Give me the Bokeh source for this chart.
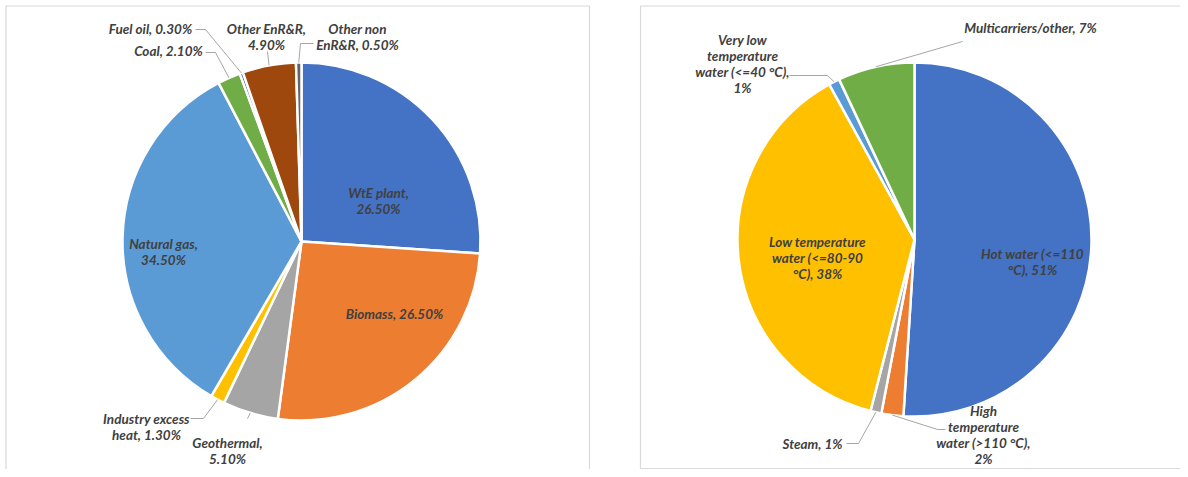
import math
from bokeh.plotting import figure
from bokeh.models import Range1d
from bokeh.core.properties import value
from bokeh.embed import file_html
from bokeh.resources import INLINE

# ---------------- data ----------------
supply_categories = ["WtE plant", "Biomass", "Geothermal", "Industry excess heat",
                     "Natural gas", "Coal", "Fuel oil", "Other EnR&R", "Other non EnR&R"]
supply_values = [26.5, 26.5, 5.1, 1.3, 34.5, 2.1, 0.3, 4.9, 0.5]

carrier_categories = ["Hot water (<=110 °C)", "High temperature water (>110 °C)", "Steam",
                      "Low temperature water (<=80-90 °C)", "Very low temperature water (<=40 °C)",
                      "Multicarriers/other"]
carrier_values = [51, 2, 1, 38, 1, 7]

# ---------------- styles / layout ----------------
supply_colors = ["#4472C4", "#ED7D31", "#A5A5A5", "#FFC000", "#5B9BD5",
                 "#70AD47", "#264478", "#9E480E", "#636363"]
carrier_colors = ["#4472C4", "#ED7D31", "#A5A5A5", "#FFC000", "#5B9BD5", "#70AD47"]

# label anchor (centre x, first line y) in pixels, words per line
supply_label_pos = [(378, 192), (394, 313), (227, 442), (146, 418), (163, 243),
                    (168, 50), (150, 28), (266, 28), (357, 28)]
supply_label_wrap = [[2, 1], [2], [1, 1], [2, 2], [2, 1], [2], [3], [2, 1], [2, 2]]
supply_leaders = [None, None, [(247, 418)], [(190, 418), (203, 418)], None,
                  [(205, 52), (215, 52)], [(195, 29), (205, 29)], [(267, 51)],
                  [(313, 43), (300, 43)]]

carrier_label_pos = [(1032, 253), (983, 410), (812, 443), (817, 241), (742, 39), (1030, 27)]
carrier_label_wrap = [[3, 2], [1, 1, 3, 1], [2], [2, 2, 2], [2, 1, 3, 1], [2]]
carrier_leaders = [None, [(945, 429), (937, 429)], [(846, 443), (858, 443)], None,
                   [(789, 75), (827, 75)], [(962, 41)]]

LINE_H = 16.3
TEXT_COLOR = "#404040"
LEADER_COLOR = "#A6A6A6"
FONT = "Lato"

W, H = 1180, 469

p = figure(width=W, height=H, x_range=Range1d(0, W), y_range=Range1d(-H, 0),
           output_backend="svg", toolbar_location=None, min_border=0)
p.axis.visible = False
p.grid.visible = False
p.outline_line_color = None
p.background_fill_color = "white"
p.border_fill_color = "white"

# panel frames
p.multi_line(xs=[[5.5, 5.5, 589, 589], [1200, 640, 640, 1200]],
             ys=[[-480, -5.5, -5.5, -480], [-468, -468, -5.5, -5.5]],
             line_color="#D9D9D9", line_width=1.2)


def draw_pie(cx, cy, r, values, colors, fmt, categories, label_pos, wrap, leaders):
    total = sum(values)
    cum = 0.0
    starts, ends, mids = [], [], []
    for v in values:
        a0 = cum / total
        cum += v
        a1 = cum / total
        starts.append(math.pi / 2 - 2 * math.pi * a0)
        ends.append(math.pi / 2 - 2 * math.pi * a1)
        mids.append((a0 + a1) / 2)
    p.wedge(x=cx, y=-cy, radius=r, start_angle=starts, end_angle=ends, direction="clock",
            fill_color=colors, line_color="white", line_width=2.5)

    # leader lines
    xs, ys = [], []
    for m, pts in zip(mids, leaders):
        if pts is None:
            continue
        th = 2 * math.pi * m
        ex, ey = cx + r * math.sin(th), cy - r * math.cos(th)
        xs.append([q[0] for q in pts] + [ex])
        ys.append([-q[1] for q in pts] + [-ey])
    p.multi_line(xs=xs, ys=ys, line_color=LEADER_COLOR, line_width=1)

    # labels
    tx, ty, tt = [], [], []
    for cat, v, (lx, ly), wr in zip(categories, values, label_pos, wrap):
        words = f"{cat}, {fmt(v)}".split()
        i = 0
        for k, n in enumerate(wr):
            tt.append(" ".join(words[i:i + n]))
            i += n
            tx.append(lx)
            ty.append(-(ly + k * LINE_H))
    p.text(x=tx, y=ty, text=tt, text_align="center", text_baseline="middle",
           text_font=value(FONT), text_font_size="13.5px", text_font_style="bold italic",
           text_color=TEXT_COLOR)


draw_pie(301, 241, 179, supply_values, supply_colors, lambda v: f"{v:.2f}%",
         supply_categories, supply_label_pos, supply_label_wrap, supply_leaders)
draw_pie(914, 239, 177, carrier_values, carrier_colors, lambda v: f"{v:.0f}%",
         carrier_categories, carrier_label_pos, carrier_label_wrap, carrier_leaders)

open("out.html", "w").write(file_html(p, INLINE))
